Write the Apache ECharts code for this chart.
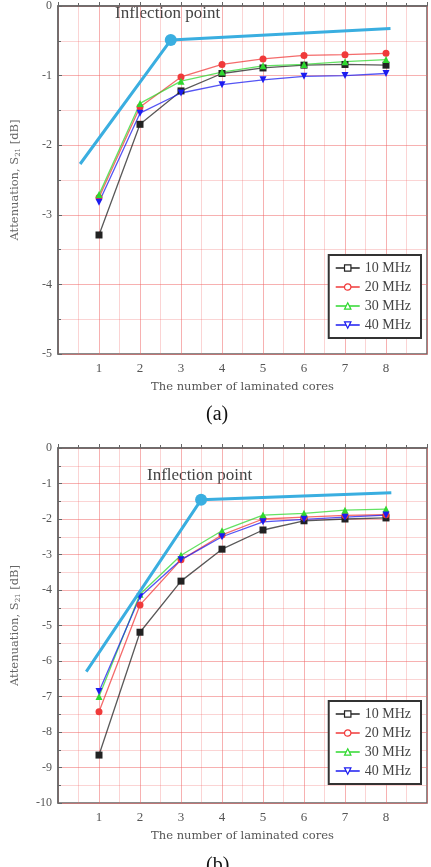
<!DOCTYPE html>
<html>
<head>
<meta charset="utf-8">
<script src="https://cdn.jsdelivr.net/npm/echarts@6/dist/echarts.min.js"></script>
<style>
  html, body { margin: 0; padding: 0; background: #fff; }
  #chart { width: 431px; height: 867px; }
</style>
</head>
<body>
<div id="chart"></div>
<script>
var cores = [1, 2, 3, 4, 5, 6, 7, 8];
var names = ['10 MHz', '20 MHz', '30 MHz', '40 MHz'];
var colors = ['#222222', '#f03a3a', '#2fd82f', '#1c1cf0'];
var symbols = ['rect', 'circle', 'triangle', 'triangle'];

// (a)
var a10 = [-3.29, -1.70, -1.22, -0.97, -0.89, -0.85, -0.84, -0.85];
var a20 = [-2.75, -1.45, -1.02, -0.84, -0.76, -0.71, -0.70, -0.68];
var a30 = [-2.71, -1.40, -1.08, -0.95, -0.86, -0.84, -0.80, -0.77];
var a40 = [-2.82, -1.54, -1.25, -1.13, -1.06, -1.01, -1.00, -0.97];
var aInflect = [[0.54, -2.27], [2.75, -0.49], [8.11, -0.325]];

// (b)
var b10 = [-8.65, -5.19, -3.75, -2.85, -2.31, -2.05, -2.00, -1.97];
var b20 = [-7.43, -4.42, -3.15, -2.45, -2.00, -1.95, -1.90, -1.88];
var b30 = [-7.00, -4.12, -3.02, -2.33, -1.89, -1.84, -1.75, -1.72];
var b40 = [-6.86, -4.19, -3.15, -2.50, -2.08, -2.01, -1.95, -1.89];
var bInflect = [[0.69, -6.3], [3.49, -1.46], [8.13, -1.26]];

var serif = 'Liberation Serif';
var wideSerif = 'DejaVu Serif';
var gridColor = 'rgba(240,100,100,0.5)';
var minorColor = 'rgba(240,100,100,0.28)';

function xAxisFor(idx) {
    return {
        type: 'value', gridIndex: idx, min: 0, max: 9, interval: 1,
        name: 'The number of laminated cores', nameLocation: 'middle', nameGap: 27,
        nameTextStyle: { fontFamily: wideSerif, fontSize: 11.5, color: '#555' },
        axisLine: { lineStyle: { color: '#666', width: 1.5 } },
        axisTick: { inside: true, length: 4, lineStyle: { color: '#666' } },
        minorTick: { show: true, splitNumber: 2, length: 3, lineStyle: { color: '#666' } },
        axisLabel: {
            fontFamily: serif, fontSize: 13, color: '#555', margin: 8,
            formatter: function (v) { return (v >= 1 && v <= 8) ? String(v) : ''; }
        },
        splitLine: { show: true, lineStyle: { color: gridColor, width: 1 } },
        minorSplitLine: { show: true, lineStyle: { color: minorColor, width: 1 } }
    };
}

function yAxisFor(idx, min) {
    return {
        type: 'value', gridIndex: idx, min: min, max: 0, interval: 1,
        name: '{t|Attenuation, S}{s|21}{t| [dB]}', nameLocation: 'middle', nameGap: 36,
        nameTextStyle: {
            rich: {
                t: { fontFamily: wideSerif, fontSize: 11.5, color: '#666' },
                s: { fontFamily: wideSerif, fontSize: 7, color: '#666', padding: [6, 0, 0, 0] }
            }
        },
        axisLine: { lineStyle: { color: '#666', width: 1.5 } },
        axisTick: { inside: true, length: 4, lineStyle: { color: '#666' } },
        minorTick: { show: true, splitNumber: 2, length: 3, lineStyle: { color: '#666' } },
        axisLabel: { fontFamily: serif, fontSize: 12, color: '#555', margin: 6 },
        splitLine: { show: true, lineStyle: { color: gridColor, width: 1 } },
        minorSplitLine: { show: true, lineStyle: { color: minorColor, width: 1 } }
    };
}

function pairs(vals) {
    return cores.map(function (c, i) { return [c, vals[i]]; });
}

function dataSeries(idx, sets) {
    return sets.map(function (vals, i) {
        return {
            name: names[i], type: 'line', xAxisIndex: idx, yAxisIndex: idx,
            data: pairs(vals), symbol: symbols[i], symbolSize: 7,
            symbolRotate: i === 3 ? 180 : 0,
            lineStyle: { color: colors[i], width: 1.3, opacity: 0.75 },
            itemStyle: { color: colors[i] },
            z: 3
        };
    });
}

function inflectSeries(idx, pts) {
    return {
        name: 'inflection', type: 'line', xAxisIndex: idx, yAxisIndex: idx,
        data: pts.map(function (p, i) {
            return i === 1 ? { value: p, symbol: 'circle', symbolSize: 12 } : { value: p, symbol: 'none' };
        }),
        lineStyle: { color: '#3aaee0', width: 3 },
        itemStyle: { color: '#3aaee0' },
        z: 4
    };
}

function legendFor(idx, top) {
    return {
        orient: 'vertical', right: 10, top: top,
        data: names.map(function (n, i) {
            return { name: n, itemStyle: { color: '#fff', borderColor: colors[i], borderWidth: 1.2 } };
        }),
        itemWidth: 24, itemHeight: 8, itemGap: 5,
        padding: [6, 10, 6, 6],
        backgroundColor: '#fff', borderColor: '#333', borderWidth: 2,
        textStyle: { fontFamily: serif, fontSize: 14, color: '#444' },
        selectedMode: false
    };
}

var chart = echarts.init(document.getElementById('chart'));
var option = {
    animation: false,
    grid: [
        { left: 58, right: 4, top: 1.5, height: 352.5, show: true, borderColor: '#666', borderWidth: 1.5, backgroundColor: '#fff' },
        { left: 58, right: 4, top: 448, height: 355, show: true, borderColor: '#666', borderWidth: 1.5, backgroundColor: '#fff' }
    ],
    xAxis: [xAxisFor(0), xAxisFor(1)],
    yAxis: [yAxisFor(0, -5), yAxisFor(1, -10)],
    legend: [legendFor(0, 255), legendFor(1, 701)],
    graphic: [
        { type: 'text', left: 115, top: 5, style: { text: 'Inflection point', fontFamily: serif, fontSize: 17, fill: '#444' } },
        { type: 'text', left: 147, top: 467, style: { text: 'Inflection point', fontFamily: serif, fontSize: 17, fill: '#444' } },
        { type: 'text', left: 206, top: 405, style: { text: '(a)', fontFamily: serif, fontSize: 20, fill: '#111' } },
        { type: 'text', left: 206, top: 856, style: { text: '(b)', fontFamily: serif, fontSize: 20, fill: '#111' } }
    ],
    series: [].concat(
        dataSeries(0, [a10, a20, a30, a40]),
        [inflectSeries(0, aInflect)],
        dataSeries(1, [b10, b20, b30, b40]),
        [inflectSeries(1, bInflect)]
    )
};
chart.setOption(option);
</script>
</body>
</html>
